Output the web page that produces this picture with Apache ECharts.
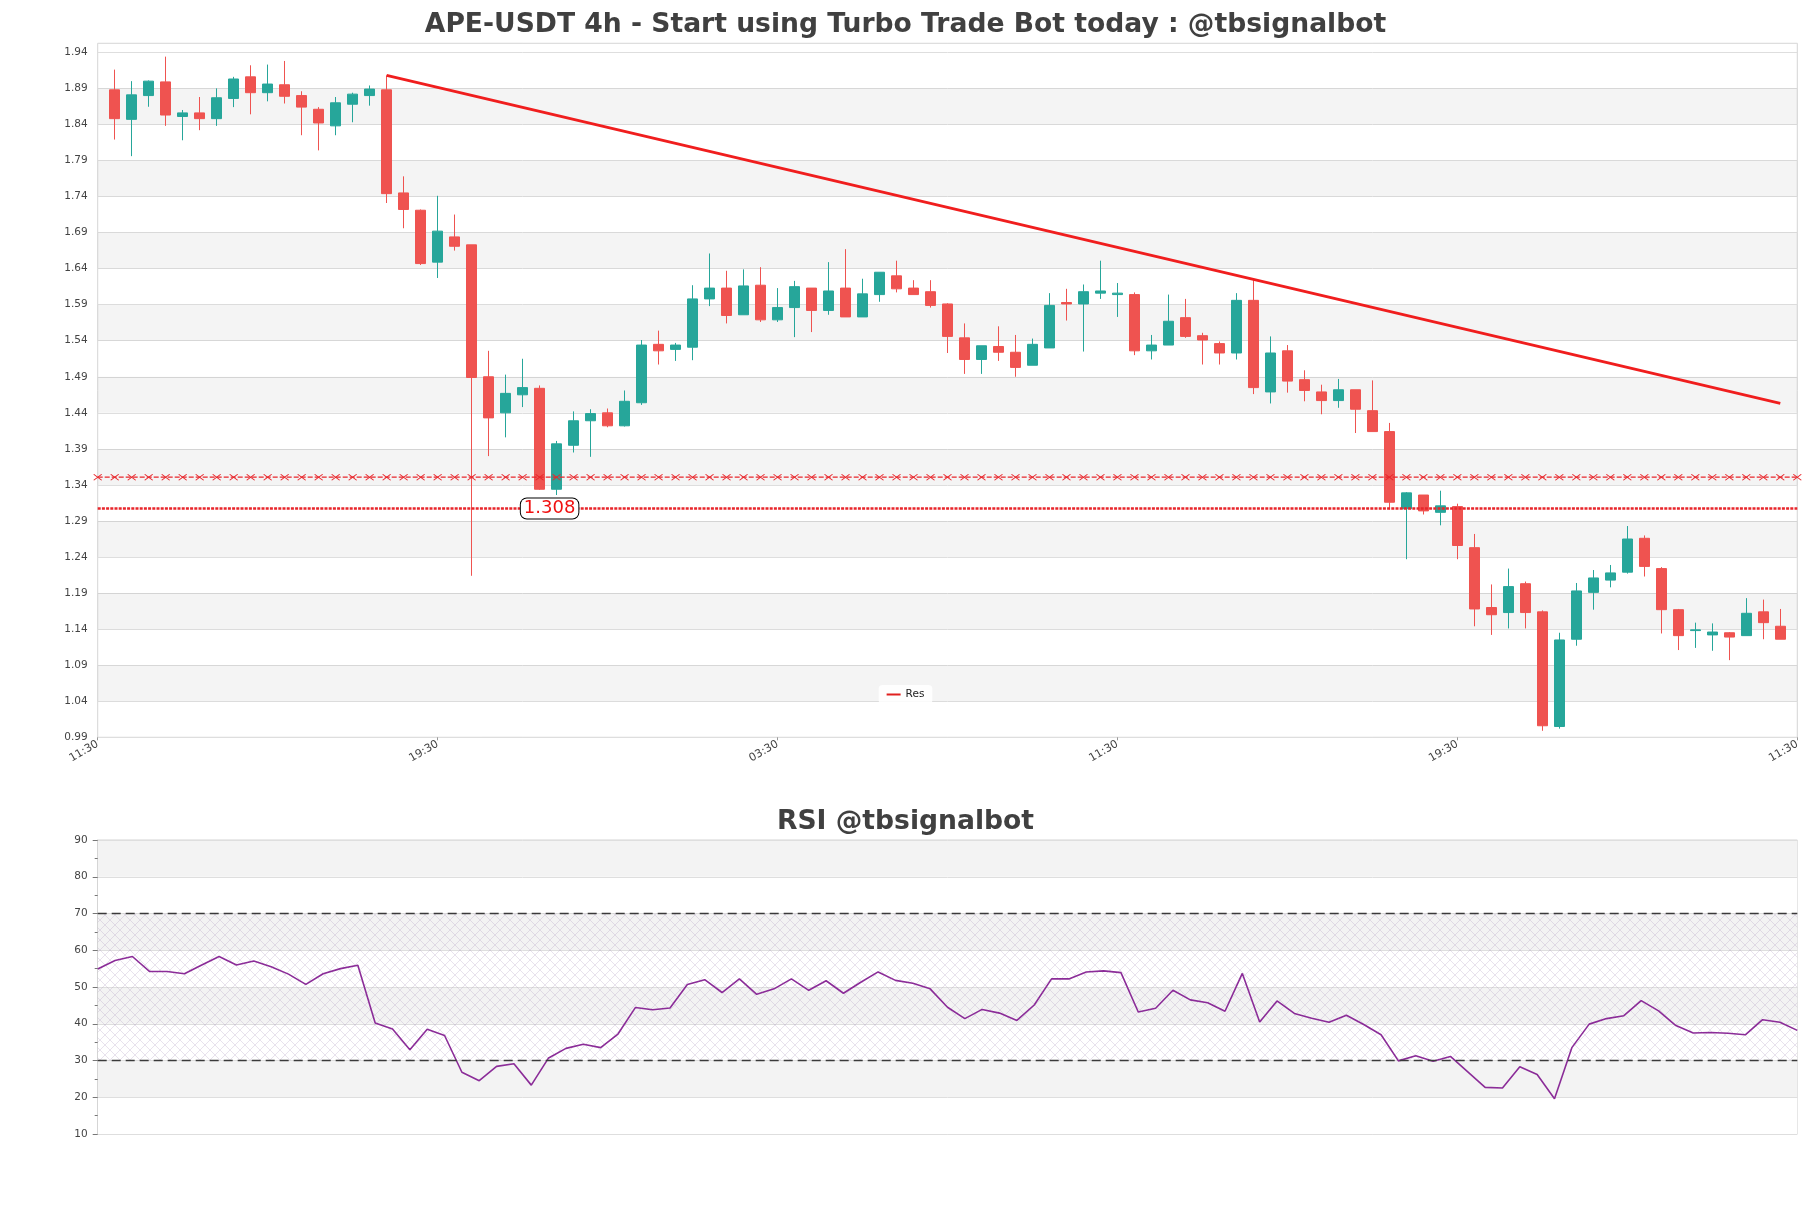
<!DOCTYPE html>
<html>
<head>
<meta charset="utf-8">
<script src="https://cdn.jsdelivr.net/npm/echarts@6/dist/echarts.min.js"></script>
<style>
  html, body { margin: 0; padding: 0; background: #fff; }
  #chart { width: 1811px; height: 1208px; }
</style>
</head>
<body>
<div id="chart"></div>
<script>
// x tick labels, one every 20 slots
const tickLabels = ['11:30', '19:30', '03:30', '11:30', '19:30', '11:30'];

// 4h candles
const opens = [1.888, 1.847, 1.880, 1.899, 1.851, 1.856, 1.848, 1.876, 1.906, 1.884,
  1.895, 1.880, 1.861, 1.838, 1.868, 1.880, 1.888, 1.745, 1.721, 1.649,
  1.684, 1.673, 1.490, 1.440, 1.465, 1.474, 1.334, 1.395, 1.429, 1.440,
  1.422, 1.454, 1.535, 1.528, 1.531, 1.598, 1.613, 1.576, 1.617, 1.569,
  1.586, 1.613, 1.582, 1.613, 1.573, 1.604, 1.630, 1.613, 1.608, 1.591,
  1.544, 1.514, 1.532, 1.524, 1.506, 1.530, 1.593, 1.591, 1.606, 1.604,
  1.604, 1.526, 1.534, 1.572, 1.547, 1.536, 1.523, 1.596, 1.469, 1.526,
  1.486, 1.469, 1.457, 1.472, 1.443, 1.414, 1.307, 1.326, 1.302, 1.310,
  1.253, 1.170, 1.163, 1.203, 1.164, 1.005, 1.126, 1.191, 1.208, 1.219,
  1.266, 1.224, 1.167, 1.138, 1.132, 1.135, 1.131, 1.164, 1.144];
const closes = [1.848, 1.881, 1.900, 1.853, 1.856, 1.848, 1.877, 1.903, 1.884, 1.896,
  1.879, 1.864, 1.842, 1.870, 1.882, 1.889, 1.744, 1.722, 1.647, 1.692,
  1.671, 1.489, 1.433, 1.467, 1.475, 1.334, 1.397, 1.429, 1.439, 1.422,
  1.456, 1.534, 1.526, 1.534, 1.598, 1.613, 1.575, 1.616, 1.569, 1.586,
  1.615, 1.582, 1.609, 1.573, 1.605, 1.635, 1.612, 1.604, 1.589, 1.546,
  1.514, 1.533, 1.524, 1.503, 1.535, 1.589, 1.591, 1.608, 1.609, 1.606,
  1.526, 1.534, 1.567, 1.546, 1.541, 1.523, 1.596, 1.475, 1.523, 1.484,
  1.471, 1.457, 1.472, 1.445, 1.414, 1.316, 1.329, 1.304, 1.311, 1.256,
  1.168, 1.160, 1.199, 1.163, 1.006, 1.125, 1.193, 1.211, 1.218, 1.265,
  1.227, 1.167, 1.131, 1.139, 1.136, 1.129, 1.162, 1.149, 1.126];
const lows = [1.819, 1.796, 1.8645, 1.838, 1.818, 1.832, 1.838, 1.864, 1.854, 1.872,
  1.869, 1.825, 1.804, 1.825, 1.843, 1.866, 1.731, 1.696, 1.645, 1.627,
  1.665, 1.214, 1.380, 1.406, 1.448, 1.333, 1.326, 1.385, 1.379, 1.420,
  1.421, 1.451, 1.507, 1.512, 1.513, 1.588, 1.564, 1.576, 1.566, 1.566,
  1.545, 1.552, 1.576, 1.573, 1.573, 1.594, 1.607, 1.604, 1.586, 1.523,
  1.494, 1.494, 1.512, 1.490, 1.506, 1.530, 1.568, 1.525, 1.598, 1.573,
  1.520, 1.514, 1.534, 1.544, 1.507, 1.507, 1.514, 1.466, 1.453, 1.468,
  1.456, 1.438, 1.447, 1.412, 1.414, 1.306, 1.237, 1.299, 1.284, 1.237,
  1.144, 1.132, 1.141, 1.141, 0.999, 1.002, 1.117, 1.167, 1.198, 1.217,
  1.213, 1.134, 1.111, 1.114, 1.110, 1.097, 1.131, 1.126, 1.126];
const highs = [1.916, 1.900, 1.901, 1.934, 1.860, 1.878, 1.890, 1.906, 1.922, 1.923,
  1.928, 1.886, 1.864, 1.878, 1.884, 1.894, 1.908, 1.768, 1.722, 1.741,
  1.715, 1.673, 1.526, 1.493, 1.515, 1.478, 1.401, 1.442, 1.445, 1.446,
  1.471, 1.541, 1.554, 1.537, 1.617, 1.661, 1.637, 1.639, 1.642, 1.613,
  1.623, 1.613, 1.649, 1.667, 1.626, 1.635, 1.651, 1.624, 1.624, 1.592,
  1.564, 1.533, 1.560, 1.548, 1.543, 1.606, 1.612, 1.618, 1.651, 1.620,
  1.607, 1.548, 1.604, 1.598, 1.551, 1.539, 1.606, 1.625, 1.546, 1.534,
  1.499, 1.479, 1.487, 1.472, 1.485, 1.426, 1.330, 1.326, 1.332, 1.314,
  1.272, 1.202, 1.224, 1.206, 1.166, 1.135, 1.204, 1.222, 1.229, 1.283,
  1.270, 1.226, 1.168, 1.149, 1.148, 1.136, 1.183, 1.181, 1.168];

// RSI, one value per candle
const rsi = [54.9, 57.2, 58.3, 54.2, 54.2, 53.6, 56.0, 58.3, 56.0, 57.1,
  55.5, 53.5, 50.7, 53.6, 55.0, 55.9, 40.2, 38.6, 32.9, 38.5,
  36.8, 26.8, 24.5, 28.4, 29.1, 23.3, 30.7, 33.3, 34.4, 33.5,
  37.2, 44.4, 43.8, 44.3, 50.7, 52.0, 48.5, 52.2, 48.0, 49.5,
  52.2, 49.1, 51.7, 48.3, 51.3, 54.1, 51.8, 51.0, 49.5, 44.5,
  41.4, 43.9, 42.9, 40.9, 45.1, 52.2, 52.2, 54.1, 54.4, 53.9,
  43.2, 44.2, 49.1, 46.5, 45.7, 43.4, 53.7, 40.5, 46.2, 42.8,
  41.5, 40.4, 42.3, 39.8, 37.0, 29.9, 31.3, 29.8, 31.1, 26.9,
  22.7, 22.5, 28.3, 26.2, 19.6, 33.5, 39.9, 41.4, 42.2, 46.3,
  43.5, 39.5, 37.5, 37.6, 37.4, 37.0, 41.1, 40.4, 38.2];

// resistance trendline: [candle index, price]
const resLine = [[16, 1.908], [98, 1.453]];
// horizontal levels
const levels = [1.3507, 1.3073];
const levelLabel = '1.308';
const rsiLevels = [70, 30];

// price axis
const priceMin = 0.99, priceMax = 1.9525, priceStep = 0.05;

// 101 slots on the price chart: candles sit on slots 1..99
const slotCount = 101;
const categories = [];
for (let s = 0; s < slotCount; s++) {
  categories.push(s % 20 === 0 ? tickLabels[s / 20] : '');
}

// alternating gray bands on the price chart
const bands = [];
for (let k = 1; k < 19; k += 2) {
  const a = +(priceMin + k * priceStep).toFixed(2);
  bands.push([{ yAxis: a }, { yAxis: +(a + priceStep).toFixed(2) }]);
}

// cross-hatch for the RSI 30-70 zone
const hatch = document.createElement('canvas');
hatch.width = 10;
hatch.height = 10;
const hctx = hatch.getContext('2d');
hctx.strokeStyle = 'rgba(165,140,185,0.32)';
hctx.lineWidth = 0.8;
hctx.beginPath();
hctx.moveTo(0, 0); hctx.lineTo(10, 10);
hctx.moveTo(10, 0); hctx.lineTo(0, 10);
hctx.stroke();

const red = '#ef5350';
const green = '#26a69a';
const lineRed = '#e8262b';

const chart = echarts.init(document.getElementById('chart'));

const titleStyle = { fontSize: 26.6, fontWeight: 'bold', color: '#404040', fontFamily: 'DejaVu Sans' };

const option = {
  animation: false,
  backgroundColor: '#fff',
  textStyle: { fontFamily: 'DejaVu Sans' },
  title: [
    {
      text: 'APE-USDT 4h - Start using Turbo Trade Bot today : @tbsignalbot',
      left: 'center',
      top: 12,
      padding: 0,
      textStyle: titleStyle
    },
    {
      text: 'RSI @tbsignalbot',
      left: 'center',
      top: 809,
      padding: 0,
      textStyle: titleStyle
    }
  ],
  legend: {
    data: ['Res'],
    left: 'center',
    top: 685,
    icon: 'rect',
    itemWidth: 14,
    itemHeight: 2,
    itemGap: 6,
    padding: [4, 8],
    backgroundColor: 'rgba(255,255,255,0.85)',
    borderRadius: 4,
    textStyle: { fontSize: 10.5, color: '#222' }
  },
  grid: [
    { left: 97.7, right: 13.7, top: 43.3, height: 694, show: true, borderColor: '#d5d5d5', borderWidth: 1, backgroundColor: '#fff' },
    { left: 97.7, right: 13.7, top: 840, height: 294, show: true, borderColor: '#d5d5d5', borderWidth: 1, backgroundColor: '#fff' }
  ],
  xAxis: [
    {
      gridIndex: 0,
      type: 'category',
      data: categories,
      boundaryGap: false,
      axisLine: { show: false },
      axisTick: { show: true, interval: 19, length: 3, lineStyle: { color: '#999' } },
      axisLabel: { interval: 19, rotate: 30, fontSize: 11, color: '#444', margin: 6 },
      splitLine: { show: false }
    },
    {
      gridIndex: 1,
      type: 'category',
      data: rsi.map((_, i) => i),
      boundaryGap: false,
      axisLine: { show: false },
      axisTick: { show: false },
      axisLabel: { show: false },
      splitLine: { show: false }
    }
  ],
  yAxis: [
    {
      gridIndex: 0,
      type: 'value',
      min: priceMin,
      max: priceMax,
      interval: priceStep,
      axisLine: { show: false },
      axisTick: { show: false },
      splitLine: { lineStyle: { color: '#dedede' } },
      axisLabel: {
        fontSize: 10.5,
        color: '#444',
        margin: 10,
        formatter: v => (v > 1.945 ? '' : v.toFixed(2))
      }
    },
    {
      gridIndex: 1,
      type: 'value',
      min: 10,
      max: 90,
      interval: 10,
      axisLine: { show: true, lineStyle: { color: '#d5d5d5' } },
      axisTick: { show: true, length: 5, lineStyle: { color: '#777' } },
      minorTick: { show: true, splitNumber: 2, length: 3, lineStyle: { color: '#777' } },
      splitLine: { lineStyle: { color: '#dedede' } },
      splitArea: { show: true, areaStyle: { color: ['#ffffff', '#f3f3f3'] } },
      axisLabel: { fontSize: 10.5, color: '#444', margin: 10 }
    }
  ],
  series: [
    {
      type: 'candlestick',
      xAxisIndex: 0,
      yAxisIndex: 0,
      data: opens.map((o, i) => [i + 1, o, closes[i], lows[i], highs[i]]),
      encode: { x: 0, y: [1, 2, 3, 4] },
      barWidth: 11,
      itemStyle: {
        color: green,
        color0: red,
        borderColor: green,
        borderColor0: red,
        borderWidth: 1
      },
      markArea: {
        silent: true,
        itemStyle: { color: 'rgba(0,0,0,0.045)' },
        data: bands
      },
      z: 3
    },
    {
      name: 'Res',
      type: 'line',
      xAxisIndex: 0,
      yAxisIndex: 0,
      data: resLine.map(p => [p[0] + 1, p[1]]),
      symbol: 'none',
      itemStyle: { color: '#e0201f' },
      lineStyle: { color: '#f01e1e', width: 2.8 },
      z: 5
    },
    {
      type: 'line',
      xAxisIndex: 0,
      yAxisIndex: 0,
      data: categories.map((_, s) => [s, levels[0]]),
      symbol: 'path://M0,0L10,10M10,0L0,10',
      symbolSize: [8, 6],
      itemStyle: { color: 'rgba(0,0,0,0)', borderColor: lineRed, borderWidth: 1 },
      lineStyle: { color: lineRed, width: 1.2, type: [5, 2] },
      z: 4
    },
    {
      type: 'line',
      xAxisIndex: 0,
      yAxisIndex: 0,
      data: categories.map((_, s) => [s, levels[1]]),
      symbol: 'none',
      lineStyle: { color: lineRed, width: 2.6, type: [3, 1.2] },
      markPoint: {
        symbol: 'rect',
        symbolSize: 1,
        itemStyle: { color: 'rgba(0,0,0,0)' },
        data: [{ coord: [27, levels[1]], value: levelLabel }],
        label: {
          show: true,
          position: 'inside',
          offset: [-7, 0],
          formatter: levelLabel,
          fontSize: 18,
          color: '#f01010',
          backgroundColor: '#fff',
          borderColor: '#000',
          borderWidth: 1,
          borderRadius: 6,
          padding: [1, 3]
        },
        z: 10
      },
      z: 4
    },
    {
      type: 'line',
      xAxisIndex: 1,
      yAxisIndex: 1,
      data: rsi,
      symbol: 'none',
      lineStyle: { color: '#8b2c98', width: 1.6 },
      markArea: {
        silent: true,
        itemStyle: { color: { image: hatch, repeat: 'repeat' } },
        data: [[{ yAxis: rsiLevels[1] }, { yAxis: rsiLevels[0] }]]
      },
      markLine: {
        silent: true,
        symbol: 'none',
        label: { show: false },
        lineStyle: { color: '#3a3a3a', type: [9, 5], width: 1.3 },
        data: rsiLevels.map(v => ({ yAxis: v }))
      },
      z: 4
    }
  ]
};

chart.setOption(option);
</script>
</body>
</html>
